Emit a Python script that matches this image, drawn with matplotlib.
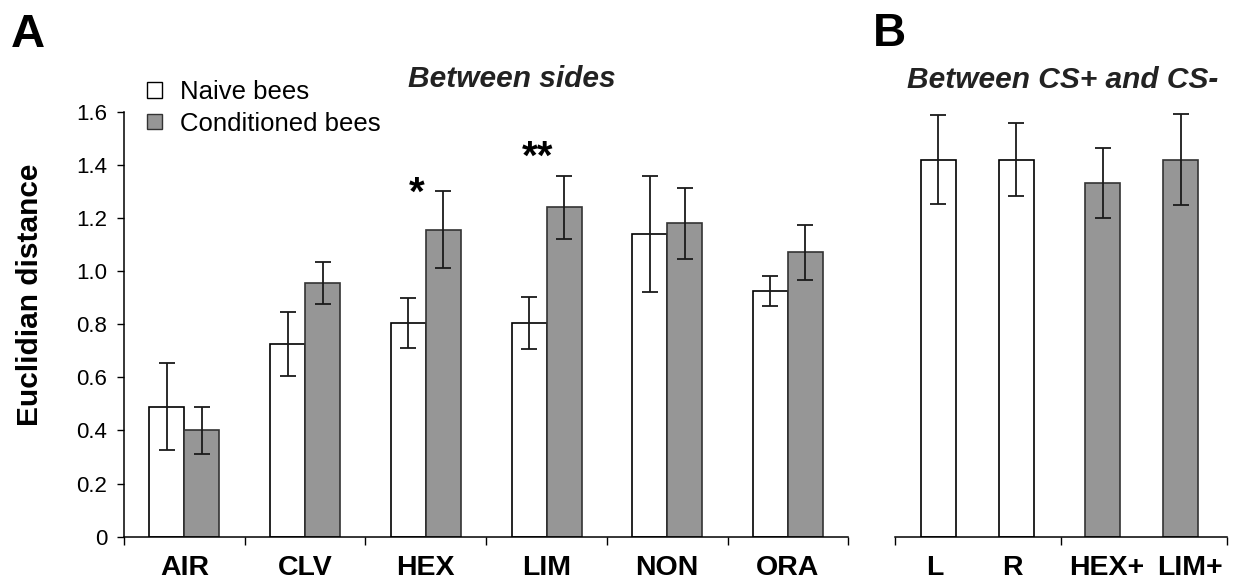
import matplotlib
matplotlib.use("Agg")
import matplotlib.pyplot as plt
from matplotlib.patches import Patch
import numpy as np

plt.rcParams['font.family'] = ['Liberation Sans', 'DejaVu Sans']

# ---- Panel A data ----
categories_a = ["AIR", "CLV", "HEX", "LIM", "NON", "ORA"]
naive_means = [0.49, 0.725, 0.805, 0.805, 1.14, 0.925]
naive_err = [0.165, 0.12, 0.095, 0.097, 0.218, 0.056]
cond_means = [0.40, 0.955, 1.155, 1.24, 1.18, 1.07]
cond_err = [0.09, 0.08, 0.145, 0.118, 0.133, 0.104]
series_labels = ["Naive bees", "Conditioned bees"]
signif_labels = {"HEX": "*", "LIM": "**"}
signif_heights = {"HEX": 1.29, "LIM": 1.425}

# ---- Panel B data ----
categories_b = ["L", "R", "HEX+", "LIM+"]
b_means = [1.42, 1.42, 1.33, 1.42]
b_err = [0.168, 0.137, 0.132, 0.171]
b_group = ["naive", "naive", "cond", "cond"]

y_ticks = [0, 0.2, 0.4, 0.6, 0.8, 1.0, 1.2, 1.4, 1.6]
y_ticklabels = ["0", "0.2", "0.4", "0.6", "0.8", "1.0", "1.2", "1.4", "1.6"]

WHITE = "white"
GRAY = "#969696"
EDGE = "#333333"
ERR = "#1a1a1a"

W, H = 1234, 581
fig = plt.figure(figsize=(W / 100, H / 100), dpi=100)

def fx(px):
    return px / W

def fy(py):
    return 1 - py / H

axA = fig.add_axes([fx(124), fy(536.7), fx(848.3) - fx(124), fy(111.7) - fy(536.7)])
axB = fig.add_axes([fx(895), fy(536.7), fx(1227) - fx(895), fy(111.7) - fy(536.7)])

err_kw = dict(ecolor=ERR, elinewidth=1.3, capsize=6, capthick=1.3)
bw = 0.29
x = np.arange(len(categories_a))
axA.bar(x - bw / 2, naive_means, bw, yerr=naive_err, color=WHITE, edgecolor="black",
        linewidth=1.2, error_kw=err_kw, label=series_labels[0])
axA.bar(x + bw / 2, cond_means, bw, yerr=cond_err, color=GRAY, edgecolor=EDGE,
        linewidth=1.2, error_kw=err_kw, label=series_labels[1])

for cat, lab in signif_labels.items():
    i = categories_a.index(cat)
    axA.text(i - 0.075, signif_heights[cat], lab, ha="center", va="center",
             fontsize=29, fontweight="bold")

axA.set_xlim(-0.5, len(categories_a) - 0.5)
axA.set_ylim(0, 1.6)
axA.set_yticks(y_ticks)
axA.set_yticklabels(y_ticklabels)
axA.set_xticks(x)
axA.set_xticklabels(categories_a, fontsize=20.5, fontweight="bold")
axA.set_xticks(np.arange(len(categories_a) + 1) - 0.5, minor=True)
axA.tick_params(axis="x", which="major", length=0, pad=13)
axA.tick_params(axis="x", which="minor", length=6, width=1, direction="out")
axA.tick_params(axis="y", length=5, width=1, labelsize=16, pad=7)
for s in ["top", "right"]:
    axA.spines[s].set_visible(False)
for s in ["left", "bottom"]:
    axA.spines[s].set_linewidth(1.1)
axA.set_ylabel("Euclidian distance", fontsize=21.5, fontweight="bold")
axA.yaxis.set_label_coords(-0.110, 0.569)

handles = [Patch(facecolor=WHITE, edgecolor="black", linewidth=1.0),
           Patch(facecolor=GRAY, edgecolor=EDGE, linewidth=1.0)]
leg = axA.legend(handles, series_labels, loc="upper left", frameon=False,
                 bbox_to_anchor=(fx(147), fy(80)), bbox_transform=fig.transFigure,
                 fontsize=18.5, handlelength=0.6, handleheight=0.55,
                 handletextpad=0.7, labelspacing=0.3, borderpad=0, borderaxespad=0)

# Panel B
xb = np.array([0.26, 0.73, 1.25, 1.72])
xb_labels = np.array([0.24, 0.705, 1.275, 1.775])
colors_b = [WHITE if g == "naive" else GRAY for g in b_group]
edges_b = ["black" if g == "naive" else EDGE for g in b_group]
axB.bar(xb, b_means, 0.211, yerr=b_err, color=colors_b, edgecolor=edges_b,
        linewidth=1.2, error_kw=err_kw)
axB.set_xlim(0, 2)
axB.set_ylim(0, 1.6)
axB.set_yticks([])
axB.set_xticks(xb_labels)
axB.set_xticklabels(categories_b, fontsize=20.5, fontweight="bold")
axB.set_xticks([0, 1, 2], minor=True)
axB.tick_params(axis="x", which="major", length=0, pad=13)
axB.tick_params(axis="x", which="minor", length=6, width=1, direction="out")
for s in ["top", "right", "left"]:
    axB.spines[s].set_visible(False)
axB.spines["bottom"].set_linewidth(1.1)

# Titles and panel letters
fig.text(fx(512), fy(87), "Between sides", ha="center", va="baseline",
         fontsize=21.5, fontweight="bold", fontstyle="italic", color="#222222")
fig.text(fx(1063), fy(88), "Between CS+ and CS-", ha="center", va="baseline",
         fontsize=21.5, fontweight="bold", fontstyle="italic", color="#222222")
fig.text(fx(11), fy(47), "A", ha="left", va="baseline", fontsize=34, fontweight="bold")
fig.text(fx(873), fy(46), "B", ha="left", va="baseline", fontsize=33, fontweight="bold")

fig.savefig("out.png", dpi=100)
